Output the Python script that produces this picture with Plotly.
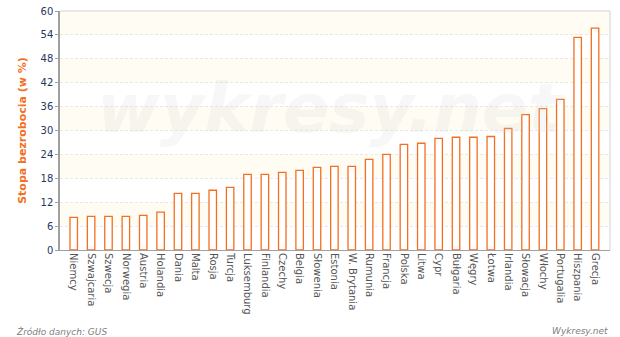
import plotly.graph_objects as go

countries = ["Niemcy", "Szwajcaria", "Szwecja", "Norwegia", "Austria", "Holandia", "Dania", "Malta",
             "Rosja", "Turcja", "Luksemburg", "Finlandia", "Czechy", "Belgia", "Słowenia", "Estonia",
             "W. Brytania", "Rumunia", "Francja", "Polska", "Litwa", "Cypr", "Bułgaria", "Węgry",
             "Łotwa", "Irlandia", "Słowacja", "Włochy", "Portugalia", "Hiszpania", "Grecja"]
values = [8.2, 8.45, 8.45, 8.45, 8.7, 9.5, 14.2, 14.2,
          15.0, 15.7, 19.0, 19.0, 19.5, 20.0, 20.75, 21.0,
          21.0, 22.75, 24.0, 26.5, 26.8, 28.0, 28.3, 28.3,
          28.5, 30.5, 34.0, 35.5, 37.8, 53.4, 55.7]
y_ticks = [0, 6, 12, 18, 24, 30, 36, 42, 48, 54, 60]

fig = go.Figure()

# alternating background bands
shapes = []
for i in range(0, len(y_ticks) - 1):
    lo, hi = y_ticks[i], y_ticks[i + 1]
    if i % 2 == 1:
        shapes.append(dict(type="rect", xref="paper", yref="y", x0=0, x1=1, y0=lo, y1=hi,
                           fillcolor="#fffcf3", line=dict(width=0), layer="below"))
# top & right border
shapes.append(dict(type="line", xref="paper", yref="paper", x0=0, x1=1, y0=1, y1=1,
                   line=dict(color="#e0e0e0", width=1.5), layer="below"))
shapes.append(dict(type="line", xref="paper", yref="paper", x0=1, x1=1, y0=0, y1=1,
                   line=dict(color="#e0e0e0", width=1.5), layer="below"))

fig.add_trace(go.Bar(
    x=list(range(len(countries))), y=values,
    width=0.43,
    marker=dict(color="white", line=dict(color="#f36f21", width=1.3)),
    hoverinfo="x+y",
))

fig.update_layout(
    width=620, height=337,
    margin=dict(l=60, r=10, t=11, b=87, autoexpand=False),
    paper_bgcolor="white", plot_bgcolor="white",
    showlegend=False,
    shapes=shapes,
    font=dict(family="DejaVu Sans", size=10),
    xaxis=dict(
        range=[-0.79, 30.86], automargin=False,
        tickmode="array", tickvals=list(range(len(countries))), ticktext=countries,
        tickangle=90, tickfont=dict(color="#555555", size=10, family="DejaVu Sans"),
        showgrid=False, showline=True, linecolor="#a0a0a0", linewidth=1,
        ticks="", zeroline=False, fixedrange=True,
    ),
    yaxis=dict(
        range=[0, 60], tickmode="array", tickvals=y_ticks, automargin=False,
        tickfont=dict(color="#1f3864", size=10, family="DejaVu Sans"),
        showgrid=True, gridcolor="#e8e8e8", griddash="3px,2px", gridwidth=1,
        showline=True, linecolor="#a0a0a0", linewidth=1.5,
        ticks="outside", ticklen=3, tickcolor="#a0a0a0",
        zeroline=False, layer="below traces",
        title=dict(text="<b>Stopa bezrobocia (w %)</b>",
                   font=dict(color="#f36f21", size=11, family="DejaVu Sans"), standoff=12),
    ),
    annotations=[
        dict(text="<b><i>wykresy.net</i></b>", xref="paper", yref="paper", x=0.49, y=0.59,
             showarrow=False, font=dict(size=68, color="rgba(215,215,215,0.2)", family="DejaVu Sans")),
        dict(text="<i>Źródło danych: GUS</i>", xref="paper", yref="paper", x=-0.083, y=-0.339,
             xanchor="left", yanchor="middle", showarrow=False,
             font=dict(size=9, color="#808080", family="DejaVu Sans")),
        dict(text="<i>Wykresy.net</i>", xref="paper", yref="paper", x=1.0, y=-0.339,
             xanchor="right", yanchor="middle", showarrow=False,
             font=dict(size=9, color="#808080", family="DejaVu Sans")),
    ],
)

fig.write_html("out.html")
